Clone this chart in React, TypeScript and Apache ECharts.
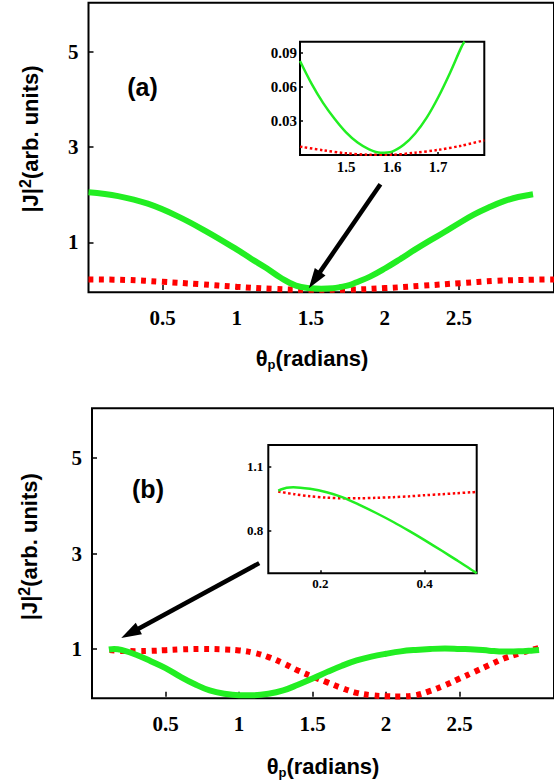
import React, { useEffect, useRef } from "react";
import * as echarts from "echarts";

// ---------- data ----------
const THETA_MAX = Math.PI;

// Panel (a), main plot
const aGreenX = [0, 0.2, 0.4, 0.6, 0.8, 1.0, 1.1, 1.2, 1.3, 1.4, 1.5, 1.57, 1.65, 1.7, 1.76, 1.8, 1.9, 2.0, 2.1, 2.2, 2.3, 2.4, 2.5, 2.6, 2.7, 2.8, 2.9, 3.0];
const aGreenY = [2.05, 1.97, 1.81, 1.55, 1.22, 0.85, 0.65, 0.46, 0.25, 0.09, 0.035, 0.025, 0.035, 0.06, 0.1, 0.15, 0.28, 0.45, 0.64, 0.84, 1.03, 1.21, 1.4, 1.58, 1.73, 1.86, 1.95, 2.01];
const aRedX = [0, 0.25, 0.5, 0.75, 1.0, 1.25, 1.5, 1.75, 2.0, 2.25, 2.5, 2.75, 3.0, 3.1416];
const aRedY = [0.22, 0.21, 0.17, 0.12, 0.065, 0.022, 0.004, 0.006, 0.038, 0.087, 0.14, 0.19, 0.215, 0.22];

// Panel (a), inset
const aInGreenX = [1.4, 1.425, 1.45, 1.475, 1.5, 1.525, 1.55, 1.575, 1.6, 1.625, 1.65, 1.675, 1.7, 1.725, 1.75, 1.757];
const aInGreenY = [0.083, 0.063, 0.046, 0.032, 0.02, 0.011, 0.005, 0.002, 0.003, 0.009, 0.019, 0.033, 0.051, 0.072, 0.095, 0.1];
const aInRedX = [1.4, 1.45, 1.5, 1.55, 1.6, 1.65, 1.7, 1.75, 1.8];
const aInRedY = [0.0074, 0.0042, 0.0015, 0.0003, 0.0003, 0.002, 0.0045, 0.0082, 0.013];

// Panel (b), main plot
const bGreenX = [0.115, 0.15, 0.2, 0.3, 0.4, 0.5, 0.6, 0.7, 0.8, 0.9, 1.0, 1.1, 1.2, 1.3, 1.4, 1.5, 1.6, 1.7, 1.8, 1.9, 2.0, 2.1, 2.2, 2.3, 2.4, 2.5, 2.6, 2.7, 2.8, 2.9, 3.0, 3.04];
const bGreenY = [0.99, 1.0, 0.98, 0.88, 0.745, 0.6, 0.42, 0.26, 0.13, 0.06, 0.03, 0.03, 0.06, 0.13, 0.25, 0.38, 0.52, 0.65, 0.76, 0.84, 0.9, 0.95, 0.98, 1.0, 1.01, 1.0, 0.99, 0.965, 0.945, 0.95, 0.97, 0.98];
const bRedX = [0.12, 0.2, 0.3, 0.4, 0.5, 0.6, 0.75, 0.9, 1.0, 1.1, 1.2, 1.3, 1.4, 1.5, 1.6, 1.7, 1.8, 1.9, 2.0, 2.1, 2.2, 2.3, 2.4, 2.5, 2.6, 2.7, 2.8, 2.9, 3.0, 3.04];
const bRedY = [0.98, 0.96, 0.955, 0.96, 0.975, 0.99, 1.0, 0.99, 0.97, 0.92, 0.83, 0.7, 0.55, 0.42, 0.3, 0.18, 0.08, 0.03, 0.01, 0.005, 0.03, 0.12, 0.24, 0.38, 0.52, 0.66, 0.8, 0.9, 0.99, 1.02];

// Panel (b), inset
const bInGreenX = [0.119, 0.135, 0.148, 0.18, 0.212, 0.243, 0.275, 0.307, 0.34, 0.371, 0.4, 0.434, 0.46, 0.485, 0.5];
const bInGreenY = [0.987, 1.0, 1.003, 0.995, 0.979, 0.955, 0.92, 0.882, 0.84, 0.797, 0.755, 0.704, 0.664, 0.625, 0.6];
const bInRedX = [0.119, 0.15, 0.18, 0.21, 0.243, 0.275, 0.307, 0.34, 0.371, 0.4, 0.434, 0.46, 0.49, 0.5];
const bInRedY = [0.982, 0.97, 0.96, 0.954, 0.951, 0.951, 0.953, 0.956, 0.96, 0.965, 0.97, 0.974, 0.979, 0.98];

// Tick labels
const mainXTicks = [0.5, 1, 1.5, 2, 2.5];
const mainYTicks = [1, 3, 5];
const aInXTicks = [1.5, 1.6, 1.7];
const aInYTicks = [0.03, 0.06, 0.09];
const bInXTicks = [0.2, 0.4];
const bInYTicks = [0.8, 1.1];

// Arrow annotations (data coordinates: tail, tip)
const arrowA = [[1.97, 2.22], [1.487, 0.036]];
const arrowB = [[1.137, 2.8], [0.199, 1.23]];

// ---------- styling ----------
const SERIF = "'Liberation Serif', 'Times New Roman', serif";
const SANS = "'Liberation Sans', Arial, sans-serif";
const GREEN = "#22ee22";
const RED = "#ff0000";

const zip = (xs: number[], ys: number[]) => xs.map((x, i) => [x, ys[i]]);

function axisFor(gridIndex: number, min: number, max: number, ticks: number[], fontSize: number, margin: number, tickLen: number) {
  return {
    gridIndex, type: "value", min, max,
    axisLine: { show: false },
    splitLine: { show: false },
    axisTick: { show: true, inside: true, length: tickLen, customValues: ticks, lineStyle: { color: "#000", width: 1.5 } },
    axisLabel: { customValues: ticks, color: "#000", fontFamily: SERIF, fontWeight: "bold", fontSize, margin, formatter: (v: number) => String(v) },
  };
}
function lineSeries(idx: number, data: number[][], color: string, width: number, dotted: number[] | null, z: number, smooth: number) {
  return {
    type: "line", xAxisIndex: idx, yAxisIndex: idx, data,
    showSymbol: false, smooth, z,
    lineStyle: { color, width, type: dotted ? dotted : "solid", cap: "butt" },
    silent: true,
  };
}

function arrowGraphic(p0: number[], p1: number[], width: number, headLen: number, headW: number) {
  const dx = p1[0] - p0[0], dy = p1[1] - p0[1];
  const L = Math.hypot(dx, dy);
  const ux = dx / L, uy = dy / L;
  const nx = -uy, ny = ux;
  const bx = p1[0] - ux * headLen, by = p1[1] - uy * headLen;
  return [
    { type: "line", shape: { x1: p0[0], y1: p0[1], x2: bx + ux * 2, y2: by + uy * 2 }, style: { stroke: "#000", lineWidth: width }, z: 50 },
    { type: "polygon", shape: { points: [[p1[0], p1[1]], [bx + nx * headW / 2, by + ny * headW / 2], [bx - nx * headW / 2, by - ny * headW / 2]] }, style: { fill: "#000" }, z: 50 },
  ];
}

export default function App() {
  const ref = useRef<HTMLDivElement>(null);
  useEffect(() => {
    if (!ref.current) return;
    const chart = echarts.init(ref.current, null, { renderer: "svg" });
    const frame = { show: true, borderColor: "#000", borderWidth: 2 };
    const titleRich = {
      m: { fontFamily: SANS, fontWeight: "bold", fontSize: 22, lineHeight: 26, fill: "#000" },
      s: { fontFamily: SANS, fontWeight: "bold", fontSize: 16, lineHeight: 26, verticalAlign: "top", fill: "#000" },
      b: { fontFamily: SANS, fontWeight: "bold", fontSize: 13, lineHeight: 26, verticalAlign: "bottom", fill: "#000" },
    };
    const texts = [
      { type: "text", x: 142.5, y: 86.7, style: { text: "(a)", fontFamily: SANS, fontWeight: "bold", fontSize: 25, fill: "#000", align: "center", verticalAlign: "middle" } },
      { type: "text", x: 148, y: 489, style: { text: "(b)", fontFamily: SANS, fontWeight: "bold", fontSize: 25, fill: "#000", align: "center", verticalAlign: "middle" } },
      { type: "text", x: 30, y: 139, rotation: Math.PI / 2, style: { text: "{m||J|}{s|2}{m|(arb. units)}", rich: titleRich, align: "center", verticalAlign: "middle" } },
      { type: "text", x: 29, y: 546.7, rotation: Math.PI / 2, style: { text: "{m||J|}{s|2}{m|(arb. units)}", rich: titleRich, align: "center", verticalAlign: "middle" } },
      { type: "text", x: 312, y: 358, style: { text: "{m|θ}{b|p}{m|(radians)}", rich: titleRich, align: "center", verticalAlign: "middle" } },
      { type: "text", x: 323, y: 766, style: { text: "{m|θ}{b|p}{m|(radians)}", rich: titleRich, align: "center", verticalAlign: "middle" } },
    ];
    chart.setOption({
      animation: false,
      backgroundColor: "#fff",
      grid: [
        { left: 88.5, top: 2.7, width: 467.3, height: 289.6, ...frame },
        { left: 300, top: 41.7, width: 184.3, height: 113.3, ...frame, backgroundColor: "#fff" },
        { left: 92, top: 408.3, width: 466.8, height: 290, ...frame },
        { left: 268.3, top: 445, width: 208.4, height: 128.3, ...frame, backgroundColor: "#fff" },
      ],
      xAxis: [
        axisFor(0, 0, THETA_MAX, mainXTicks, 21, 15, 5),
        axisFor(1, 1.4, 1.8, aInXTicks, 15, 4, 3),
        axisFor(2, 0, THETA_MAX, mainXTicks, 21, 15, 5),
        axisFor(3, 0.1, 0.5, bInXTicks, 13, 4, 3),
      ],
      yAxis: [
        axisFor(0, -0.05, 6.03, mainYTicks, 21, 10, 5),
        axisFor(1, 0, 0.1, aInYTicks, 15, 3, 3),
        axisFor(2, -0.034, 6.046, mainYTicks, 21, 10, 5),
        axisFor(3, 0.6, 1.2, bInYTicks, 13, 5, 3),
      ],
      series: [
        lineSeries(0, zip(aRedX, aRedY), RED, 6, [5, 5.5], 2, 0.4),
        lineSeries(0, zip(aGreenX, aGreenY), GREEN, 6, null, 3, 0.4),
        lineSeries(1, zip(aInRedX, aInRedY), RED, 2.5, [2.5, 2.5], 2, 0.3),
        lineSeries(1, zip(aInGreenX, aInGreenY), GREEN, 2.5, null, 3, 0.3),
        lineSeries(2, zip(bRedX, bRedY), RED, 6, [5, 5.5], 2, 0.4),
        lineSeries(2, zip(bGreenX, bGreenY), GREEN, 6, null, 3, 0.4),
        lineSeries(3, zip(bInRedX, bInRedY), RED, 2.5, [2.5, 2.5], 2, 0.3),
        lineSeries(3, zip(bInGreenX, bInGreenY), GREEN, 2.5, null, 3, 0.3),
      ],
      graphic: texts,
    });
    const pA0 = chart.convertToPixel({ gridIndex: 0 }, arrowA[0]) as number[];
    const pA1 = chart.convertToPixel({ gridIndex: 0 }, arrowA[1]) as number[];
    const pB0 = chart.convertToPixel({ gridIndex: 2 }, arrowB[0]) as number[];
    const pB1 = chart.convertToPixel({ gridIndex: 2 }, arrowB[1]) as number[];
    chart.setOption({
      graphic: [...texts, ...arrowGraphic(pA0, pA1, 4.5, 20, 13), ...arrowGraphic(pB0, pB1, 4.5, 20, 13)],
    });
    return () => chart.dispose();
  }, []);
  return <div ref={ref} style={{ position: "absolute", left: 0, top: 0, width: 554, height: 783 }} />;
}
